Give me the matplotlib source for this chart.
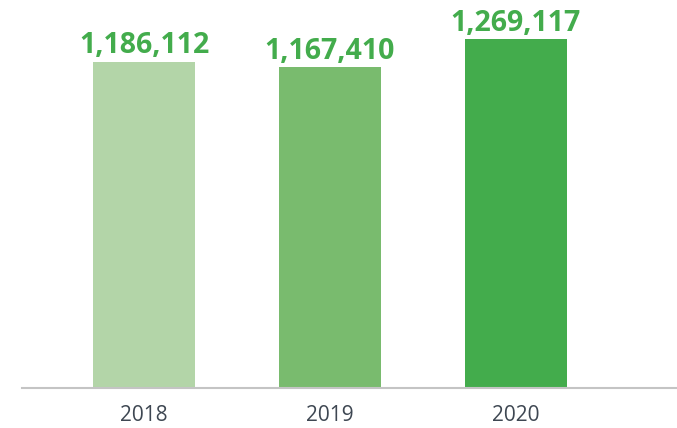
import matplotlib
matplotlib.use("Agg")
import matplotlib.pyplot as plt

years = ["2018", "2019", "2020"]
values = [1186112, 1167410, 1269117]
bar_colors = ["#B3D5A8", "#79BB6E", "#43AC4C"]
label_color = "#43AC4C"

fig = plt.figure(figsize=(6.77, 4.28), dpi=100)
ax = fig.add_axes([22 / 677, 40 / 428, 655 / 677, 388 / 428])

x = list(range(len(years)))
bars = ax.bar(x, values, width=0.545, color=bar_colors, zorder=2)

ax.set_xlim(-0.656, 2.866)
ax.set_ylim(0, 1269117 * 388 / 349)

for b, v in zip(bars, values):
    ax.annotate(f"{v:,}", (b.get_x() + b.get_width() / 2, v),
                xytext=(0, 1), textcoords="offset points",
                ha="center", va="bottom", fontsize=20.5,
                fontweight="bold", family="Open Sans", color=label_color)

ax.set_xticks(x)
ax.set_xticklabels(years, fontsize=15, family="Open Sans", color="#3E4752")
ax.tick_params(axis="x", length=0, pad=12)
ax.set_yticks([])

for side in ["top", "left", "right"]:
    ax.spines[side].set_visible(False)
ax.spines["bottom"].set_color("#C4C4C4")
ax.spines["bottom"].set_linewidth(1.5)

fig.savefig("out.png", dpi=100)
